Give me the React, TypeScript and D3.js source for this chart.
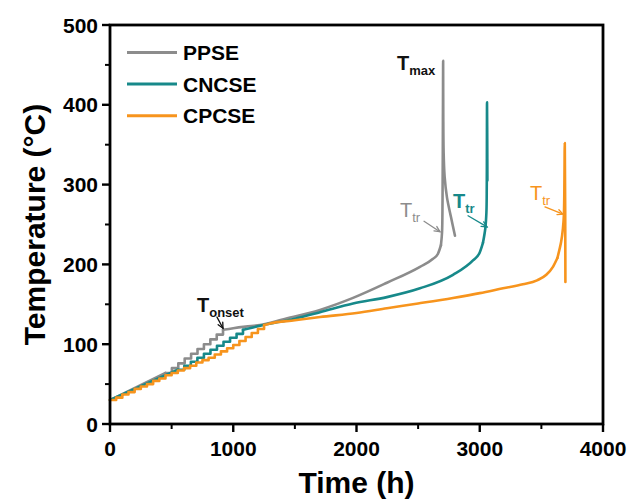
import React from "react";
import * as d3 from "d3";

const W = 638;
const H = 502;

const X_DOMAIN = [0, 4000];
const Y_DOMAIN = [0, 500];
const X_TICKS = [0, 1000, 2000, 3000, 4000];
const X_MINOR = [500, 1500, 2500, 3500];
const Y_TICKS = [0, 100, 200, 300, 400, 500];
const Y_MINOR = [50, 150, 250, 350, 450];

const SERIES_NAMES = ["PPSE", "CNCSE", "CPCSE"];
const SERIES_COLORS = ["#8c8c8c", "#17898a", "#f7941d"];

// PPSE (gray)
const ppseLeadTime = [0, 450];
const ppseLeadTemp = [30, 64];
const ppseStepTime = [450, 502, 554, 606, 658, 710, 762, 814, 866, 917];
const ppseStepTemp = [64, 70, 76, 82, 88, 94, 100, 106, 112, 118];
const ppseSmoothTime = [917, 1000, 1100, 1217, 1400, 1704, 1972, 2247, 2515, 2621, 2660, 2685];
const ppseSmoothTemp = [118, 120, 122, 124, 131, 143, 158, 177, 197, 207, 213, 224];
const ppseSpikeTime = [2685, 2694, 2698, 2701, 2703, 2704, 2707, 2715, 2734, 2767, 2799];
const ppseSpikeTemp = [224, 240, 280, 380, 455, 390, 340, 310, 284, 259, 236];

// CNCSE (teal)
const cncseLeadTime = [0, 550];
const cncseLeadTemp = [30, 68];
const cncseStepTime = [550, 603, 656, 709, 762, 815, 868, 921, 974, 1027, 1079];
const cncseStepTemp = [68, 73, 78, 83, 88, 93, 98, 103, 108, 113, 118];
const cncseSmoothTime = [1079, 1160, 1245, 1500, 1704, 1972, 2247, 2515, 2783, 2945, 3000, 3026];
const cncseSmoothTemp = [118, 121, 124, 132, 140, 151, 159, 170, 187, 205, 215, 227];
const cncseSpikeTime = [3026, 3045, 3054, 3057, 3059, 3061, 3062];
const cncseSpikeTemp = [227, 245, 265, 300, 403, 350, 305];

// CPCSE (orange)
const cpcseLeadTime = [0, 0];
const cpcseLeadTemp = [30, 30];
const cpcseStepTime = [0, 50, 100, 150, 200, 250, 300, 350, 400, 450, 500, 550, 600, 650, 700, 750, 800, 850, 900, 950, 1000, 1050, 1100, 1150, 1200, 1250];
const cpcseStepTemp = [30, 33, 37, 40, 44, 47, 50, 54, 57, 61, 64, 67, 70, 73, 77, 80, 83, 87, 91, 95, 99, 104, 109, 114, 119, 124];
const cpcseSmoothTime = [1250, 1298, 1500, 1704, 2000, 2247, 2500, 2783, 3000, 3189, 3350, 3465, 3540, 3594, 3630];
const cpcseSmoothTemp = [124, 126, 130, 134, 139, 145, 151, 158, 164, 170, 175, 180, 187, 197, 208];
const cpcseSpikeTime = [3630, 3660, 3675, 3683, 3690, 3695];
const cpcseSpikeTemp = [208, 228, 245, 263, 352, 178];

// annotations
const ANN_LABELS = ["T", "T", "T", "T", "T"];
const ANN_SUBS = ["max", "tr", "tr", "tr", "onset"];
const ANN_COLORS = ["#111111", "#8c8c8c", "#17898a", "#f7941d", "#111111"];
const ANN_BOLD = [true, false, true, false, true];
const ANN_TEXT_TIME = [2329, 2353, 2783, 3408, 706];
const ANN_TEXT_TEMP = [444, 259, 271, 281, 140];
const ANN_ARROW_FROM_TIME = [null, 2548, 2905, 3529, 868];
const ANN_ARROW_FROM_TEMP = [null, 254, 261, 272, 134];
const ANN_ARROW_TO_TIME = [null, 2677, 3059, 3675, 917];
const ANN_ARROW_TO_TEMP = [null, 241, 247, 263, 120];

const FONT = "'Liberation Sans', Arial, Helvetica, sans-serif";

function zip(t: number[], v: number[]): [number, number][] {
  return t.map((d, i) => [d, v[i]] as [number, number]);
}

export default function App() {
  const left = 110, right = 603, top = 25, bottom = 424;
  const x = d3.scaleLinear().domain(X_DOMAIN).range([left, right]);
  const y = d3.scaleLinear().domain(Y_DOMAIN).range([bottom, top]);

  const linear = d3.line<[number, number]>().x(d => x(d[0])).y(d => y(d[1])).curve(d3.curveLinear);
  const step = d3.line<[number, number]>().x(d => x(d[0])).y(d => y(d[1])).curve(d3.curveStepAfter);
  const smooth = d3.line<[number, number]>().x(d => x(d[0])).y(d => y(d[1])).curve(d3.curveMonotoneX);
  const spikeLine = d3.line<[number, number]>().x(d => x(d[0])).y(d => y(d[1])).curve(d3.curveCatmullRom.alpha(0.5));

  const series = [
    { lead: zip(ppseLeadTime, ppseLeadTemp), steps: zip(ppseStepTime, ppseStepTemp), smooth: zip(ppseSmoothTime, ppseSmoothTemp), spike: zip(ppseSpikeTime, ppseSpikeTemp) },
    { lead: zip(cncseLeadTime, cncseLeadTemp), steps: zip(cncseStepTime, cncseStepTemp), smooth: zip(cncseSmoothTime, cncseSmoothTemp), spike: zip(cncseSpikeTime, cncseSpikeTemp) },
    { lead: zip(cpcseLeadTime, cpcseLeadTemp), steps: zip(cpcseStepTime, cpcseStepTemp), smooth: zip(cpcseSmoothTime, cpcseSmoothTemp), spike: zip(cpcseSpikeTime, cpcseSpikeTemp) },
  ];

  const sw = 2.6;

  return (
    <svg width={W} height={H} style={{ position: "absolute", left: 0, top: 0, background: "#fff" }} fontFamily={FONT}>
      <rect x={0} y={0} width={W} height={H} fill="#fff" />
      {series.map((s, i) => (
        <g key={i} fill="none" stroke={SERIES_COLORS[i]} strokeWidth={sw} strokeLinejoin="round" strokeLinecap="round">
          <path d={linear(s.lead) || ""} />
          <path d={step(s.steps) || ""} />
          <path d={smooth(s.smooth) || ""} />
          <path d={spikeLine(s.spike) || ""} />
        </g>
      ))}

      <rect x={left} y={top} width={right - left} height={bottom - top} fill="none" stroke="#000" strokeWidth={2.8} />

      {X_TICKS.map(t => (
        <g key={"xt" + t}>
          <line x1={x(t)} x2={x(t)} y1={bottom} y2={bottom + 8} stroke="#000" strokeWidth={2.4} />
          <text x={x(t)} y={bottom + 32} textAnchor="middle" fontSize={21} fontWeight="bold">{t}</text>
        </g>
      ))}
      {X_MINOR.map(t => (
        <line key={"xm" + t} x1={x(t)} x2={x(t)} y1={bottom} y2={bottom + 5} stroke="#000" strokeWidth={2} />
      ))}
      {Y_TICKS.map(t => (
        <g key={"yt" + t}>
          <line x1={left - 8} x2={left} y1={y(t)} y2={y(t)} stroke="#000" strokeWidth={2.4} />
          <text x={left - 12} y={y(t)} dy="0.36em" textAnchor="end" fontSize={21} fontWeight="bold">{t}</text>
        </g>
      ))}
      {Y_MINOR.map(t => (
        <line key={"ym" + t} x1={left - 5} x2={left} y1={y(t)} y2={y(t)} stroke="#000" strokeWidth={2} />
      ))}

      <text x={(left + right) / 2} y={493} textAnchor="middle" fontSize={30} fontWeight="bold">Time (h)</text>
      <text transform={`translate(45, ${(top + bottom) / 2}) rotate(-90)`} textAnchor="middle" fontSize={30} fontWeight="bold">Temperature (°C)</text>

      {SERIES_NAMES.map((n, i) => {
        const ly = 52.5 + i * 31.6;
        return (
          <g key={n}>
            <line x1={127} x2={177} y1={ly} y2={ly} stroke={SERIES_COLORS[i]} strokeWidth={3} />
            <text x={183} y={ly + 7.5} fontSize={21} fontWeight="bold">{n}</text>
          </g>
        );
      })}

      {ANN_LABELS.map((lab, i) => {
        const tx = x(ANN_TEXT_TIME[i]);
        const ty = y(ANN_TEXT_TEMP[i]);
        const hasArrow = ANN_ARROW_FROM_TIME[i] !== null;
        let arrow = null;
        if (hasArrow) {
          const x1 = x(ANN_ARROW_FROM_TIME[i] as number), y1 = y(ANN_ARROW_FROM_TEMP[i] as number);
          const x2 = x(ANN_ARROW_TO_TIME[i] as number), y2 = y(ANN_ARROW_TO_TEMP[i] as number);
          const a = Math.atan2(y2 - y1, x2 - x1);
          const hl = 6, ha = 0.45;
          const p1 = [x2 - hl * Math.cos(a - ha), y2 - hl * Math.sin(a - ha)];
          const p2 = [x2 - hl * Math.cos(a + ha), y2 - hl * Math.sin(a + ha)];
          arrow = (
            <g stroke={ANN_COLORS[i]} strokeWidth={1.3} fill="none" strokeLinecap="round">
              <line x1={x1} y1={y1} x2={x2} y2={y2} />
              <polyline points={`${p1[0]},${p1[1]} ${x2},${y2} ${p2[0]},${p2[1]}`} />
            </g>
          );
        }
        return (
          <g key={"ann" + i}>
            <text x={tx} y={ty} fill={ANN_COLORS[i]} fontSize={20} fontWeight={ANN_BOLD[i] ? "bold" : "normal"}>
              {lab}
              <tspan dy={5} fontSize={13}>{ANN_SUBS[i]}</tspan>
            </text>
            {arrow}
          </g>
        );
      })}
    </svg>
  );
}
